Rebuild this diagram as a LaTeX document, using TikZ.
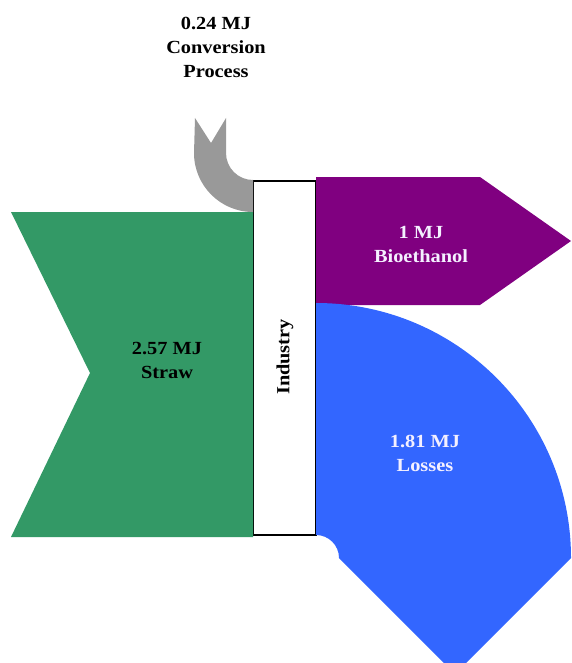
\documentclass[tikz,border=0pt]{standalone}
\usepackage{fontspec}
\setmainfont{Liberation Serif}[FakeStretch=1.1]
\definecolor{strawgreen}{HTML}{339966}
\definecolor{ethpurple}{HTML}{800080}
\definecolor{lossblue}{HTML}{3366FF}
\definecolor{convgray}{HTML}{999999}
\definecolor{lighttext}{HTML}{F4F0FF}
\tikzset{
  flowlabel/.style={align=center, font=\fontsize{18.5}{24}\selectfont\bfseries, inner sep=0pt},
  boxline/.style={draw=black, line width=1.5pt, fill=white}
}
\begin{document}
\begin{tikzpicture}[x=1pt,y=-1pt]
\useasboundingbox (0,0) rectangle (571,663);
\clip (0,0) rectangle (571,663);
% industry box
\draw[boxline] (253,181) rectangle (316,535);
% straw
\fill[strawgreen] (11,212) -- (253,212) -- (253,537) -- (11,537) -- (90,373) -- cycle;
% conversion process
\fill[convgray] (195,118) -- (211,143) -- (226,118) -- (226,153)
  arc[start angle=180,end angle=90,radius=27] -- (253,212)
  arc[start angle=90,end angle=180,radius=59] -- cycle;
% bioethanol
\fill[ethpurple] (316,177) -- (480,177) -- (571,241) -- (480,305) -- (316,305) -- cycle;
% losses
\fill[lossblue] (316,303) arc[start angle=-90,end angle=0,radius=255]
  -- (455,674) -- (339,558) arc[start angle=0,end angle=-90,radius=23] -- cycle;
% labels
\node[flowlabel] (conv) at (216,47) {0.24 MJ\\Conversion\\Process};
\node[flowlabel] (straw) at (167,360) {2.57 MJ\\Straw};
\node[flowlabel, text=lighttext] (eth) at (421,244) {1 MJ\\Bioethanol};
\node[flowlabel, text=lighttext] (loss) at (425,453) {1.81 MJ\\Losses};
\node[flowlabel, rotate=90] (ind) at (285,357) {Industry};
\end{tikzpicture}
\end{document}
